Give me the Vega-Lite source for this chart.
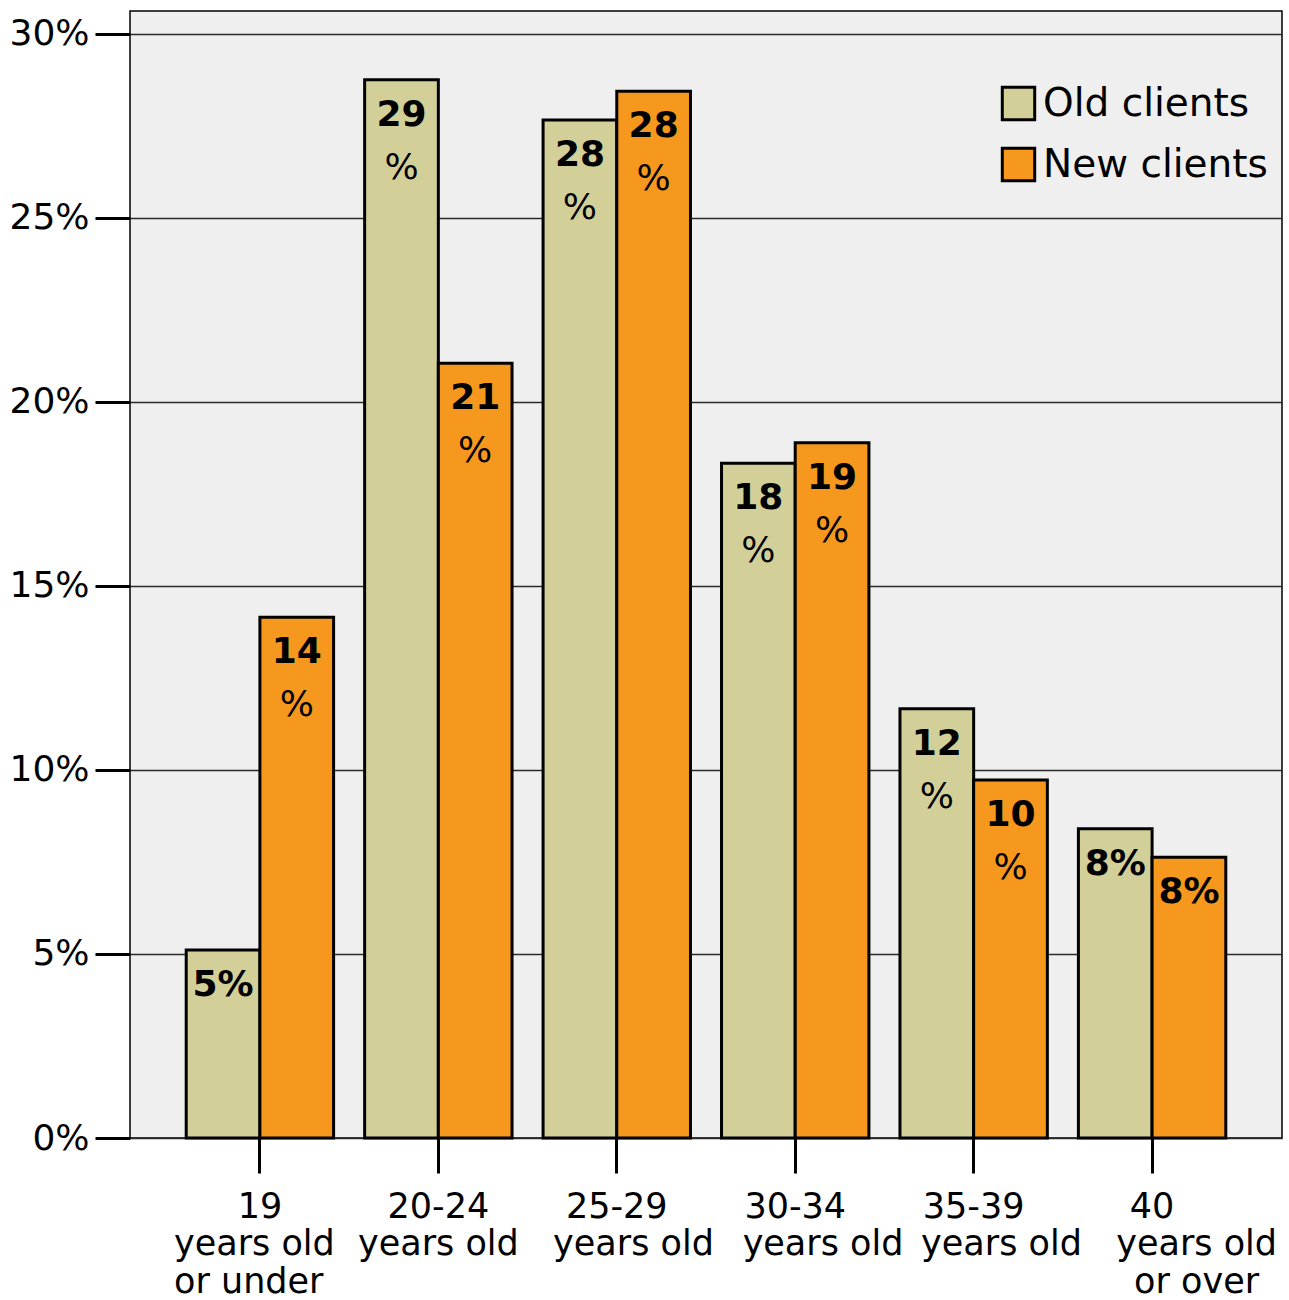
{
  "$schema": "https://vega.github.io/schema/vega-lite/v6.json",
  "width": 1152,
  "height": 1127,
  "autosize": {"type": "none"},
  "padding": {"left": 130, "top": 11, "right": 7, "bottom": 162},
  "background": "white",
  "config": {
    "view": {"fill": "#efefef", "stroke": "#000000", "strokeWidth": 1.5},
    "font": "DejaVu Sans"
  },
  "data": {
    "values": [
      {"age": "19|years old\u00a0\u200b|or under\u00a0\u00a0\u200b", "client": "Old clients", "pct": 5.11, "line1": "5%", "line2": ""},
      {"age": "19|years old\u00a0\u200b|or under\u00a0\u00a0\u200b", "client": "New clients", "pct": 14.15, "line1": "14", "line2": "%"},
      {"age": "20-24|years old", "client": "Old clients", "pct": 28.75, "line1": "29", "line2": "%"},
      {"age": "20-24|years old", "client": "New clients", "pct": 21.05, "line1": "21", "line2": "%"},
      {"age": "25-29|\u200b\u00a0\u00a0\u00a0years old", "client": "Old clients", "pct": 27.66, "line1": "28", "line2": "%"},
      {"age": "25-29|\u200b\u00a0\u00a0\u00a0years old", "client": "New clients", "pct": 28.44, "line1": "28", "line2": "%"},
      {"age": "30-34|\u200b\u00a0\u00a0\u00a0\u00a0\u00a0years old", "client": "Old clients", "pct": 18.33, "line1": "18", "line2": "%"},
      {"age": "30-34|\u200b\u00a0\u00a0\u00a0\u00a0\u00a0years old", "client": "New clients", "pct": 18.89, "line1": "19", "line2": "%"},
      {"age": "35-39|\u200b\u00a0\u00a0\u00a0\u00a0\u00a0years old", "client": "Old clients", "pct": 11.66, "line1": "12", "line2": "%"},
      {"age": "35-39|\u200b\u00a0\u00a0\u00a0\u00a0\u00a0years old", "client": "New clients", "pct": 9.73, "line1": "10", "line2": "%"},
      {"age": "40|\u200b\u00a0\u00a0\u00a0\u00a0\u00a0\u00a0\u00a0\u00a0years old|\u200b\u00a0\u00a0\u00a0\u00a0\u00a0\u00a0\u00a0\u00a0or over", "client": "Old clients", "pct": 8.40, "line1": "8%", "line2": ""},
      {"age": "40|\u200b\u00a0\u00a0\u00a0\u00a0\u00a0\u00a0\u00a0\u00a0years old|\u200b\u00a0\u00a0\u00a0\u00a0\u00a0\u00a0\u00a0\u00a0or over", "client": "New clients", "pct": 7.63, "line1": "8%", "line2": ""}
    ]
  },
  "encoding": {
    "x": {
      "field": "age",
      "type": "nominal",
      "sort": null,
      "scale": {"paddingInner": 0.174, "paddingOuter": 0.315},
      "axis": {
        "title": null,
        "labelExpr": "split(datum.label, '|')",
        "labelAngle": 0,
        "labelFontSize": 35,
        "labelLineHeight": 37.5,
        "labelColor": "#000000",
        "labelLimit": 0,
        "labelPadding": 16,
        "tickSize": 35,
        "tickWidth": 3,
        "tickColor": "#000000",
        "domain": false,
        "grid": false
      }
    },
    "xOffset": {
      "field": "client",
      "type": "nominal",
      "sort": ["Old clients", "New clients"],
      "scale": {"paddingInner": 0, "paddingOuter": 0}
    },
    "y": {
      "field": "pct",
      "type": "quantitative",
      "scale": {"domain": [0, 30.62], "nice": false, "zero": true},
      "axis": {
        "title": null,
        "values": [0, 5, 10, 15, 20, 25, 30],
        "labelExpr": "datum.value + '%'",
        "labelFontSize": 36,
        "labelColor": "#000000",
        "labelPadding": 6,
        "tickSize": 35,
        "tickWidth": 3,
        "tickColor": "#000000",
        "domain": false,
        "grid": true,
        "gridColor": "#2a2a2a",
        "gridWidth": 1.3
      }
    }
  },
  "layer": [
    {
      "mark": {"type": "bar", "stroke": "#000000", "strokeWidth": 3},
      "encoding": {
        "color": {
          "field": "client",
          "type": "nominal",
          "scale": {"domain": ["Old clients", "New clients"], "range": ["#d3cf98", "#f7981e"]},
          "legend": {
            "orient": "none",
            "legendX": 869,
            "legendY": 73,
            "title": null,
            "symbolType": "square",
            "symbolSize": 1050,
            "symbolStrokeColor": "#000000",
            "symbolStrokeWidth": 3,
            "symbolOpacity": 1,
            "labelFontSize": 39,
            "labelColor": "#000000",
            "labelOffset": 5,
            "labelLimit": 0,
            "rowPadding": 16,
            "padding": 0
          }
        }
      }
    },
    {
      "mark": {"type": "text", "baseline": "alphabetic", "align": "center", "dy": 46, "fontWeight": "bold", "fontSize": 36, "font": "DejaVu Sans", "color": "#000000"},
      "encoding": {"text": {"field": "line1"}}
    },
    {
      "mark": {"type": "text", "baseline": "alphabetic", "align": "center", "dy": 99, "fontSize": 36, "font": "DejaVu Sans", "color": "#000000"},
      "encoding": {"text": {"field": "line2"}}
    }
  ]
}
